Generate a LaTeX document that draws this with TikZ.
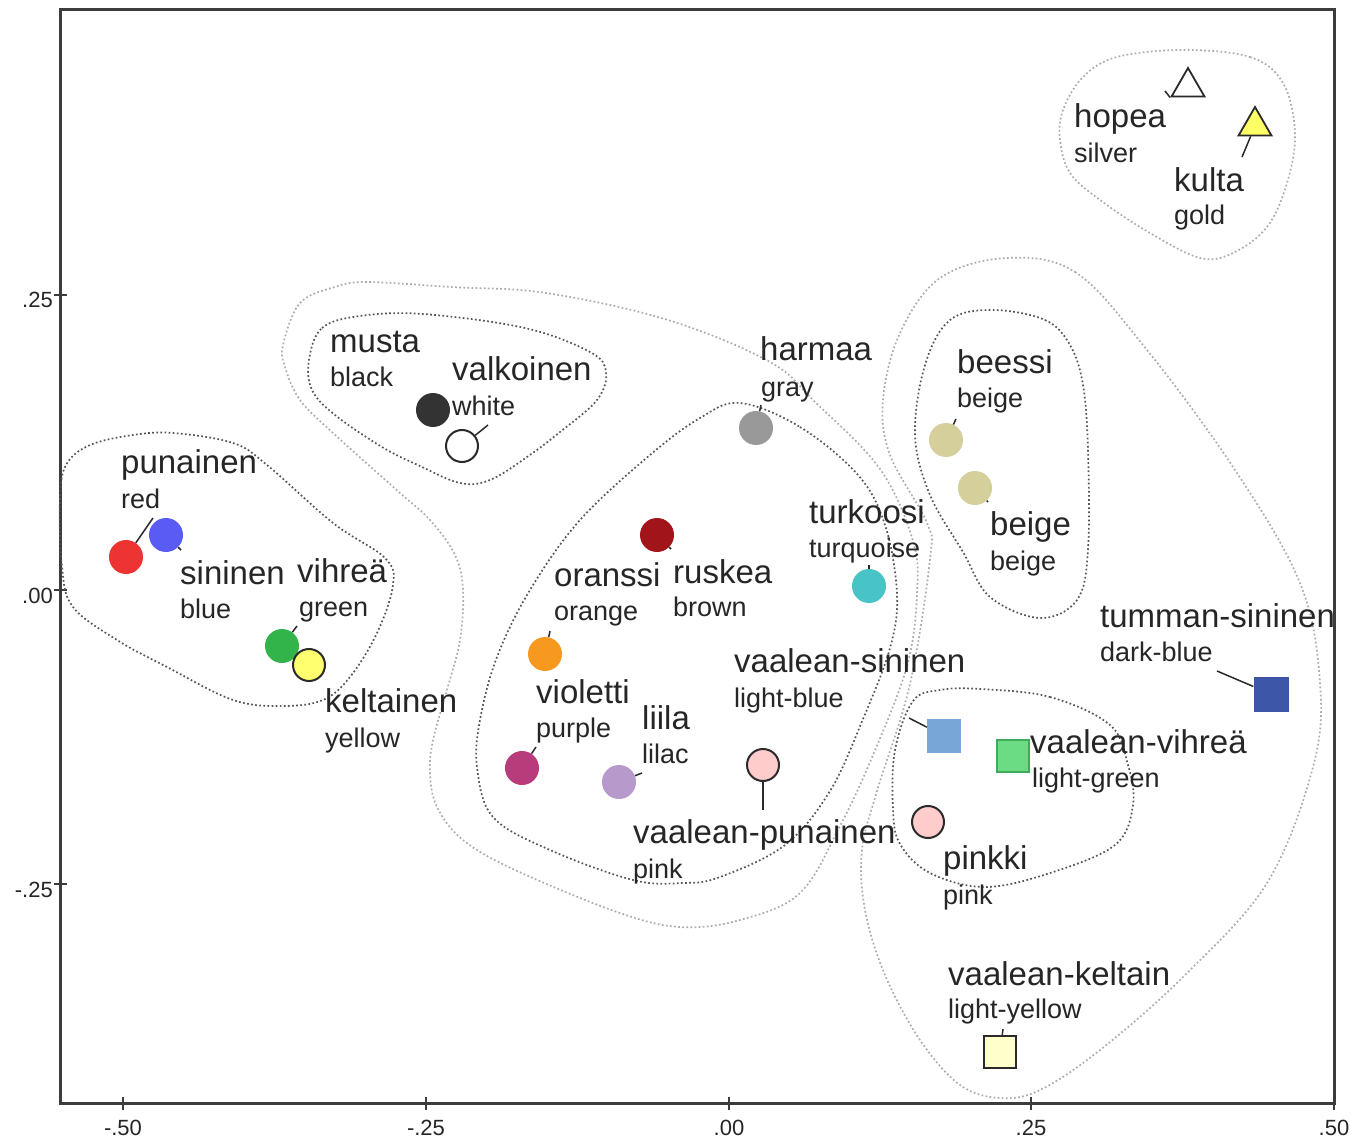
\documentclass[tikz,border=0pt]{standalone}
\usepackage{fontspec}
\setmainfont{Liberation Sans}
\usetikzlibrary{shapes.geometric}
\definecolor{txt}{HTML}{262626}
\definecolor{axis}{HTML}{3C3C3C}
\definecolor{mk}{HTML}{2A2A2A}
\definecolor{dotD}{HTML}{555555}
\definecolor{dotL}{HTML}{ABABAB}
\definecolor{cRed}{HTML}{EE3333}
\definecolor{cBlue}{HTML}{5A5AF5}
\definecolor{cGreen}{HTML}{33B44A}
\definecolor{cYellow}{HTML}{FFFF70}
\definecolor{cBlack}{HTML}{333333}
\definecolor{cGray}{HTML}{999999}
\definecolor{cBrown}{HTML}{A0141A}
\definecolor{cTurq}{HTML}{48C3C6}
\definecolor{cOrange}{HTML}{F7991F}
\definecolor{cPurple}{HTML}{B83C7C}
\definecolor{cLilac}{HTML}{B899CC}
\definecolor{cPink}{HTML}{FFCCCC}
\definecolor{cBeige}{HTML}{D4CF9B}
\definecolor{cLBlue}{HTML}{78A6D6}
\definecolor{cLGreen}{HTML}{6CDC84}
\definecolor{cLGreenB}{HTML}{3EAA5A}
\definecolor{cDBlue}{HTML}{3E56A8}
\definecolor{cLYellow}{HTML}{FFFFCC}
\definecolor{cGold}{HTML}{FFFF66}
\begin{document}
\begin{tikzpicture}[x=1pt,y=-1pt,
  dot/.style={circle,minimum size=34pt,inner sep=0pt,draw=none},
  odot/.style={circle,minimum size=32pt,inner sep=0pt,draw=mk,line width=2pt},
  sq/.style={rectangle,minimum size=34pt,inner sep=0pt},
  tri/.style={regular polygon,regular polygon sides=3,minimum size=38pt,inner sep=0pt,draw=mk,line width=1.8pt},
  big/.style={anchor=base west,inner sep=0pt,text=txt,font=\fontsize{33}{33}\selectfont},
  small/.style={anchor=base west,inner sep=0pt,text=txt,font=\fontsize{27}{27}\selectfont},
  leader/.style={draw=mk,line width=1.5pt},
  blobD/.style={draw=dotD,line width=1.7pt,dash pattern=on 1.7pt off 2.4pt},
  blobL/.style={draw=dotL,line width=1.7pt,dash pattern=on 1.7pt off 2.4pt},
  tickmark/.style={draw=axis,line width=2pt},
  ticklab/.style={inner sep=0pt,text=txt,font=\fontsize{22}{22}\selectfont}]
\useasboundingbox[fill=white] (0,0) rectangle (1352,1139);

% frame and ticks
\draw[axis,line width=3pt] (60,10) rectangle (1334,1103);
\foreach \xx/\lab [count=\i] in {123/-.50,426/-.25,729/.00,1031/.25,1334/.50}{
  \draw[tickmark] (\xx,1097) -- (\xx,1110);
  \node[ticklab,anchor=base] (xt\i) at (\xx,1135) {\lab};
}
\foreach \yy/\lab [count=\i] in {295/.25,590/.00,884/-.25}{
  \draw[tickmark] (54,\yy) -- (67,\yy);
  \node[ticklab,anchor=base east] (yt\i) at (53,\yy+13) {\lab};
}

% cluster contours
\draw[blobL] plot[smooth cycle,tension=0.6] coordinates {(283,345) (300,303) (335,287) (367,282) (450,287) (546,293) (668,320) (770,362) (815,402) (880,469) (913,541) (917,594) (907,666) (873,755) (840,826) (800,893) (740,920) (680,927) (617,912) (515,870) (463,840) (437,807) (430,773) (433,740) (447,690) (460,640) (463,590) (455,555) (430,520) (400,493) (333,433) (300,400) (285,367)};
\draw[blobL] plot[smooth cycle,tension=0.6] coordinates {(1007,258) (1075,272) (1143,345) (1233,467) (1300,583) (1320,683) (1313,767) (1267,883) (1183,977) (1100,1050) (1040,1090) (1000,1098) (960,1085) (920,1040) (885,975) (865,910) (862,850) (877,791) (910,684) (930,559) (927,523) (890,455) (883,400) (900,333) (940,278)};
\draw[blobL] plot[smooth cycle,tension=0.6] coordinates {(1183,50) (1250,57) (1283,83) (1295,133) (1287,183) (1267,227) (1233,253) (1200,258) (1150,233) (1100,200) (1070,173) (1060,140) (1063,110) (1083,77) (1117,57)};
\draw[blobD] plot[smooth cycle,tension=0.6] coordinates {(173,433) (233,443) (267,465) (333,523) (385,558) (393,585) (377,633) (350,677) (323,700) (283,706) (233,700) (167,667) (117,640) (73,607) (62,567) (60,500) (66,465) (90,445) (133,435)};
\draw[blobD] plot[smooth cycle,tension=0.6] coordinates {(309,360) (322,328) (360,316) (423,314) (525,328) (590,352) (606,372) (597,400) (560,432) (527,457) (490,480) (460,483) (420,466) (382,447) (335,415) (312,390)};
\draw[blobD] plot[smooth cycle,tension=0.6] coordinates {(740,403) (800,427) (858,475) (885,525) (897,594) (890,648) (863,719) (830,791) (785,845) (720,877) (683,883) (633,880) (550,850) (493,817) (477,767) (480,720) (497,657) (530,590) (580,520) (650,455) (700,418)};
\draw[blobD] plot[smooth cycle,tension=0.6] coordinates {(993,310) (1045,320) (1070,345) (1083,385) (1088,450) (1088,550) (1077,600) (1040,618) (990,597) (963,552) (930,495) (915,435) (925,365) (950,320)};
\draw[blobD] plot[smooth cycle,tension=0.6] coordinates {(980,689) (1050,697) (1110,725) (1128,765) (1133,805) (1115,845) (1050,873) (985,887) (930,873) (900,844) (893,809) (895,750) (913,701) (940,690)};

% markers
\node[dot,fill=cRed] (mRed) at (126,557) {};
\node[dot,fill=cBlue] (mBlue) at (166,535) {};
\node[dot,fill=cGreen] (mGreen) at (282,646) {};
\node[odot,fill=cYellow] (mYellow) at (309,665) {};
\node[dot,fill=cBlack] (mBlack) at (433,410) {};
\node[odot,fill=white] (mWhite) at (462,446) {};
\node[dot,fill=cGray] (mGray) at (756,428) {};
\node[dot,fill=cBrown] (mBrown) at (657,535) {};
\node[dot,fill=cTurq] (mTurq) at (869,586) {};
\node[dot,fill=cOrange] (mOrange) at (545,654) {};
\node[dot,fill=cPurple] (mPurple) at (522,768) {};
\node[dot,fill=cLilac] (mLilac) at (619,782) {};
\node[odot,fill=cPink] (mLRed) at (763,765) {};
\node[odot,fill=cPink] (mPinkki) at (928,822) {};
\node[dot,fill=cBeige] (mBeige1) at (946,440) {};
\node[dot,fill=cBeige] (mBeige2) at (975,488) {};
\node[sq,fill=cLBlue] (mLBlue) at (944,736) {};
\node[sq,fill=cLGreen,draw=cLGreenB,line width=1.8pt,minimum size=32pt] (mLGreen) at (1013,756) {};
\node[sq,fill=cDBlue,minimum size=35pt] (mDBlue) at (1271,694) {};
\node[sq,fill=cLYellow,draw=mk,line width=1.8pt,minimum size=32pt] (mLYellow) at (1000,1052) {};
\node[tri,fill=white] (mSilver) at (1188,87) {};
\node[tri,fill=cGold] (mGold) at (1255,126) {};

% leader ends
\coordinate (eRed) at (153,518);
\coordinate (eBlue) at (181,550);
\coordinate (eGreen) at (297,626);
\coordinate (eWhite) at (488,425);
\coordinate (eGray) at (761,405);
\coordinate (eBrown) at (671,549);
\coordinate (eTurq) at (869,565);
\coordinate (eOrange) at (550,631);
\coordinate (ePurple) at (536,747);
\coordinate (eLilac) at (642,773);
\coordinate (eLRed) at (763,810);
\coordinate (eBeige1) at (956,419);
\coordinate (eBeige2) at (988,502);
\coordinate (eDBlue) at (1217,671);
\coordinate (eLBlue) at (909,718);
\coordinate (eLYellow) at (1003,1029);
\coordinate (eGold) at (1242,157);
\coordinate (eSilver) at (1165,91);

\draw[leader] (mRed) -- (eRed);
\draw[leader] (mBlue) -- (eBlue);
\draw[leader] (mGreen) -- (eGreen);
\draw[leader] (mWhite) -- (eWhite);
\draw[leader] (mGray) -- (eGray);
\draw[leader] (mBrown) -- (eBrown);
\draw[leader] (mTurq) -- (eTurq);
\draw[leader] (mOrange) -- (eOrange);
\draw[leader] (mPurple) -- (ePurple);
\draw[leader] (mLilac) -- (eLilac);
\draw[leader] (mLRed) -- (eLRed);
\draw[leader] (mBeige1) -- (eBeige1);
\draw[leader] (mBeige2) -- (eBeige2);
\draw[leader] (mDBlue) -- (eDBlue);
\draw[leader] (mLBlue) -- (eLBlue);
\draw[leader] (mLYellow) -- (eLYellow);
\draw[leader] (mGold) -- (eGold);
\draw[leader] (mSilver.corner 2) -- (eSilver);

% labels
\node[big] (tPun) at (121,473) {punainen};
\node[small] (sPun) at (121,508) {red};
\node[big] (tSin) at (180,584) {sininen};
\node[small] (sSin) at (180,618) {blue};
\node[big] (tVih) at (297,582) {vihreä};
\node[small] (sVih) at (299,616) {green};
\node[big] (tKel) at (325,712) {keltainen};
\node[small] (sKel) at (325,747) {yellow};
\node[big] (tMus) at (330,353) {musta};
\node[small] (sMus) at (330,387) {black};
\node[big] (tVal) at (452,381) {valkoinen};
\node[small] (sVal) at (452,415) {white};
\node[big] (tHar) at (760,361) {harmaa};
\node[small] (sHar) at (761,397) {gray};
\node[big] (tOra) at (554,586) {oranssi};
\node[small] (sOra) at (554,620) {orange};
\node[big] (tRus) at (673,583) {ruskea};
\node[small] (sRus) at (673,616) {brown};
\node[big] (tTur) at (809,523) {turkoosi};
\node[small] (sTur) at (809,557) {turquoise};
\node[big] (tVio) at (536,703) {violetti};
\node[small] (sVio) at (536,737) {purple};
\node[big] (tLii) at (642,729) {liila};
\node[small] (sLii) at (642,763) {lilac};
\node[big] (tVPu) at (633,843) {vaalean-punainen};
\node[small] (sVPu) at (633,878) {pink};
\node[big] (tVSi) at (734,672) {vaalean-sininen};
\node[small] (sVSi) at (734,707) {light-blue};
\node[big] (tBee) at (957,374) {beessi};
\node[small] (sBee) at (957,408) {beige};
\node[big] (tBei) at (990,535) {beige};
\node[small] (sBei) at (990,570) {beige};
\node[big] (tTum) at (1100,627) {tumman-sininen};
\node[small] (sTum) at (1100,661) {dark-blue};
\node[big] (tVVi) at (1030,753) {vaalean-vihreä};
\node[small] (sVVi) at (1032,787) {light-green};
\node[big] (tPin) at (943,869) {pinkki};
\node[small] (sPin) at (943,904) {pink};
\node[big] (tVKe) at (948,985) {vaalean-keltain};
\node[small] (sVKe) at (948,1018) {light-yellow};
\node[big] (tHop) at (1074,128) {hopea};
\node[small] (sHop) at (1074,163) {silver};
\node[big] (tKul) at (1174,192) {kulta};
\node[small] (sKul) at (1174,225) {gold};
\end{tikzpicture}
\end{document}
